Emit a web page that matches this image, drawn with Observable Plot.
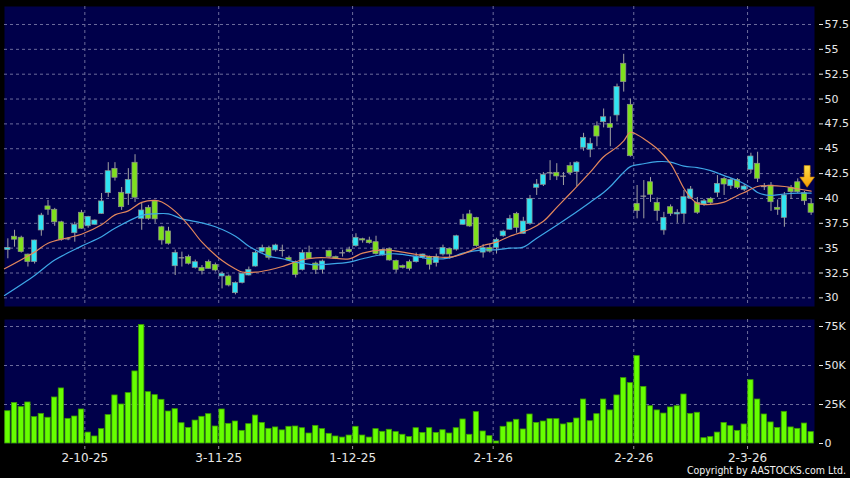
<!DOCTYPE html>
<html><head><meta charset="utf-8">
<script src="https://cdn.jsdelivr.net/npm/d3@7"></script>
<script src="https://cdn.jsdelivr.net/npm/@observablehq/plot@0.6"></script>
<style>
html,body{margin:0;padding:0;background:#000;}
#wrap{position:relative;width:850px;height:478px;overflow:hidden;background:#000;}
#price,#vol{position:absolute;left:0;}
#price{top:0}
#vol{top:312px}
#copy{position:absolute;right:4px;top:464px;color:#f2f2f2;font:10.5px "DejaVu Sans Condensed","DejaVu Sans",sans-serif;white-space:nowrap;}
svg{display:block}
</style></head><body>
<div id="wrap"><div id="price"></div><div id="vol"></div><div id="copy">Copyright by AASTOCKS.com Ltd.</div></div>
<script>
// ---- data (bar index 0..120, daily) ----
const opens  = [34.8,36.15,36.05,34.35,33.6,36.78,39.2,38.86,37.6,35.94,36.5,38.56,37.2,37.35,38.45,40.53,42.98,40.57,40.46,43.59,
  37.95,39.06,39.7,37.1,36.68,33.18,34.03,34.1,33.02,33.02,33.6,33.32,32.15,32.15,30.47,31.5,32.25,33.15,34.6,35.03,
  34.77,34.77,34.0,33.55,32.8,34.53,33.45,32.82,34.7,34.1,34.53,34.83,35.2,35.9,35.77,35.6,34.26,34.9,33.7,33.2,
  33.59,33.59,34.03,34.1,33.5,34.36,34.93,34.85,37.35,38.4,38.05,34.55,35.0,35.03,36.2,36.85,38.45,36.44,37.45,41.07,
  41.37,42.58,42.58,42.24,43.25,42.64,45.1,44.9,47.27,47.67,47.5,48.35,53.55,49.42,39.46,40.23,41.63,39.56,36.78,39.12,
  38.39,38.45,40.0,39.56,39.39,39.96,40.57,41.97,41.23,41.87,40.87,42.88,43.49,41.2,41.3,39.06,38.05,41.07,41.63,40.53,39.46];
const closes = [35.03,35.85,34.6,33.6,35.77,38.28,38.86,37.6,35.85,35.94,37.35,36.95,38.15,37.78,39.7,42.74,42.08,39.12,41.87,40.07,
  38.79,37.95,37.9,35.77,35.44,34.53,34.03,33.43,33.59,32.68,32.92,32.75,32.42,31.24,31.48,32.42,32.82,34.53,35.03,34.03,
  35.27,34.77,33.77,32.3,34.5,33.93,32.78,33.66,34.1,33.95,34.53,34.6,36.04,35.77,35.5,34.4,34.83,33.76,32.82,33.02,
  32.92,34.16,34.36,33.33,34.1,35.03,34.36,36.2,37.85,37.18,35.2,35.0,34.65,35.84,36.67,37.95,37.04,37.68,39.96,41.4,
  42.38,42.58,42.21,42.24,42.55,43.6,46.1,45.5,46.23,48.17,47.1,51.2,51.7,44.25,38.72,40.23,40.37,38.72,38.05,38.45,
  38.56,40.13,40.9,38.56,39.72,39.56,41.47,41.4,41.87,41.07,41.2,44.22,41.98,41.2,39.62,38.86,40.3,40.63,40.63,39.72,38.56];
const highs  = [35.94,36.8,36.2,34.4,35.8,38.5,39.8,39.0,37.7,36.05,37.6,38.8,38.2,37.85,40.5,43.6,43.6,41.1,43.0,44.4,
  39.5,39.3,39.8,37.2,37.1,34.8,34.6,34.3,33.8,33.25,33.8,33.5,32.6,32.3,31.6,32.5,33.1,34.7,35.3,35.2,
  35.4,35.3,34.2,33.7,34.8,35.2,33.6,33.8,34.8,34.2,34.8,35.1,36.45,36.0,36.1,36.2,34.9,35.0,33.8,33.3,
  33.8,34.5,34.4,34.2,34.4,35.3,35.0,36.3,38.4,38.8,38.1,35.35,35.4,36.0,36.8,38.3,38.6,38.1,40.3,41.9,
  42.6,43.8,43.5,42.6,43.6,43.7,46.55,46.05,47.7,49.0,48.2,51.5,54.5,50.0,41.3,41.8,42.1,40.05,38.6,39.35,
  38.86,40.8,41.2,40.1,39.9,40.1,42.3,42.1,42.0,42.0,41.4,44.55,44.65,41.5,41.6,39.85,40.6,41.3,41.97,40.7,39.96];
const lows   = [33.93,35.1,34.5,33.1,33.4,36.2,38.3,37.2,35.7,35.75,35.6,36.9,37.0,37.3,38.4,40.1,41.75,38.8,39.3,39.6,
  36.8,37.8,37.5,35.3,35.3,32.25,33.1,33.3,32.9,32.3,32.9,32.6,30.9,31.1,30.3,31.4,32.2,33.1,34.5,33.8,
  34.6,34.1,33.7,32.0,32.7,33.9,32.35,32.4,34.0,33.85,34.1,34.5,35.1,35.5,35.4,34.3,34.2,33.7,32.5,32.9,
  32.7,33.5,33.9,32.8,33.1,34.2,33.9,34.7,37.3,37.1,35.1,34.0,34.5,34.4,36.1,36.8,36.5,36.4,37.3,40.3,
  41.2,41.8,41.8,41.3,42.3,41.2,44.75,44.1,45.2,47.1,45.2,47.7,50.7,44.15,37.95,37.95,39.6,37.7,36.3,38.2,
  37.5,37.5,39.9,38.4,39.2,39.4,40.1,40.3,40.9,40.9,40.7,42.5,41.6,40.8,38.7,38.3,37.1,39.9,40.5,39.3,38.3];
const volumes = [20.7,26,23.3,26.3,16.9,19,16.5,29.5,35.3,15.8,17.3,21.8,7,4.5,9.2,18.2,30.8,25,32.3,46.2,
  75.9,32.9,31,28,20.5,22,13,10,14.7,17.1,18.8,10.9,21.8,12.6,14.1,8.1,12.4,17.9,13.2,9.4,
  10.3,8.4,10.7,10.9,9.8,6.4,11.3,9.2,6.2,4.5,3.8,5.1,10.7,5.1,3.8,9.2,7.5,8.8,7.3,5.6,
  4.1,9.8,6.8,9.8,6.8,8.5,6.4,9.8,15.4,5.6,20.1,7.7,4.7,1.3,10.7,13.5,15.2,9,18.6,13.2,
  14.1,15.6,15.6,12.2,13.2,16,28.2,14.3,18.8,28.2,21.2,30.8,41.9,38.7,56,36.3,23.9,21.2,19.2,23.1,
  23.9,31.4,19,19.7,3.4,4.1,7,13.2,11.1,8.1,12.2,40.6,28.2,18.6,13.5,10,20.3,10.3,9.4,12.8,7.3]; // thousands

const maShortIdx = [-0.5,4,6,9,11,14,16,18,20,22,23,25,27,29,32,34,35,37,39,41,44,46,48,51,53,56,58,61,63,66,68,71,73,75,78,80,82,84,87,89,91,92,93,94,95,97,99,100,101,102,103,105,107,109,110,112,114,116,118,120];
const maShortVal = [32.92,34.6,35.5,36.05,36.4,37.35,38.35,38.75,39.6,39.8,39.65,38.7,37.3,35.6,33.75,32.9,32.6,32.58,32.8,33.15,33.83,34.03,34.03,33.93,34.5,34.83,34.7,34.36,34.16,34.1,34.43,35.27,35.6,36.2,36.9,37.7,39.1,40.5,42.64,44.2,45.16,45.8,46.66,46.4,46.0,45.0,43.5,42.3,41.0,40.1,39.5,39.4,39.63,40.3,40.6,41.2,41.3,41.2,40.97,40.73];
const maLongIdx = [-0.5,4,7,11,14,16,20,22,24,26,29,31,34,36,39,41,43,46,48,51,53,56,58,61,63,66,68,71,73,75,77,79,82,84,87,89,90,92,93,95,97,99,101,103,105,107,109,111,112,114,116,118,120];
const maLongVal = [30.24,32.25,33.8,35.2,36.15,37.0,38.3,38.45,38.45,37.95,37.55,37.15,36.2,35.2,34.2,33.93,33.6,33.33,33.4,33.6,33.93,34.36,34.43,34.16,33.93,34.03,34.5,34.83,34.83,35.0,35.1,36.0,37.3,38.2,39.62,40.6,41.2,42.64,43.2,43.49,43.7,43.65,43.25,43.1,42.8,42.3,41.8,41.1,40.6,40.3,40.45,40.53,40.53];

const priceTicks = [30,32.5,35,37.5,40,42.5,45,47.5,50,52.5,55,57.5];
const priceTickLabels = ["30","32.5","35","37.5","40","42.5","45","47.5","50","52.5","55","57.5"];
const volTicks = [0,25,50,75];
const volTickLabels = ["0","25K","50K","75K"];
const monthStartIdx = [12,32,52,73,94,111];
const monthLabels = ["2-10-25","3-11-25","1-12-25","2-1-26","2-2-26","2-3-26"];
const markerIdx = 119.4, markerPrice = 42.2; // yellow arrow marker

// ---- build ----
const candles = opens.map((o,i)=>({i, open:o, close:closes[i], high:highs[i], low:lows[i], vol:volumes[i]}));
const maShort = maShortIdx.map((x,k)=>({x, v:maShortVal[k]}));
const maLong = maLongIdx.map((x,k)=>({x, v:maLongVal[k]}));
const monthPos = monthStartIdx.map(d=>d-0.5);

const NAVY="#00004a", GRID="#6c6c9c", CYAN="#2fe3f2", GREEN="#7fe01e", DOJI="#9a9a9a";
const font = {background:"transparent", color:"#e8e8e8", fontFamily:"'DejaVu Sans', sans-serif", fontSize:"11px"};
const xs = {type:"linear", domain:[-0.5,120.5]};

const arrowSymbol = {draw(ctx){
  ctx.moveTo(-3,-11); ctx.lineTo(3,-11); ctx.lineTo(3,0.5); ctx.lineTo(7.3,0.5);
  ctx.lineTo(0,10.7); ctx.lineTo(-7.3,0.5); ctx.lineTo(-3,0.5); ctx.closePath();
}};

const up = candles.filter(d=>d.close>d.open), dn = candles.filter(d=>d.close<d.open), dj = candles.filter(d=>d.close===d.open);
const body = (data, fill)=>Plot.rect(data, {x1:d=>d.i-0.5, x2:d=>d.i+0.5, y1:"open", y2:"close", insetLeft:0.75, insetRight:0.75, fill, stroke:"#8f8f8f", strokeWidth:0.7});

const price = Plot.plot({
  width:850, height:312, marginLeft:4, marginRight:36, marginTop:6, marginBottom:6,
  style:font,
  x:{...xs, axis:null},
  y:{domain:[29.13,59.31], axis:null},
  marks:[
    Plot.frame({fill:NAVY, stroke:"none"}),
    Plot.gridY(priceTicks, {stroke:GRID, strokeOpacity:1, strokeDasharray:"3,3"}),
    Plot.ruleX(monthPos, {stroke:GRID, strokeOpacity:1, strokeDasharray:"3,3"}),
    Plot.ruleX(candles, {x:"i", y1:"low", y2:"high", stroke:"#a2a2a2", strokeWidth:1}),
    body(up, CYAN),
    body(dn, GREEN),
    Plot.ruleY(dj, {y:"close", x1:d=>d.i-0.42, x2:d=>d.i+0.42, stroke:DOJI, strokeWidth:1.2}),
    Plot.line(maLong, {x:"x", y:"v", stroke:"#3ea6e6", strokeWidth:1.2, curve:"catmull-rom"}),
    Plot.line(maShort, {x:"x", y:"v", stroke:"#e3875c", strokeWidth:1.2, curve:"catmull-rom"}),
    Plot.dot([{i:markerIdx, p:markerPrice}], {x:"i", y:"p", symbol:arrowSymbol, fill:"url(#ag)", stroke:"#c98200", strokeWidth:0.6}),
    Plot.axisY(priceTicks, {anchor:"right", label:null, tickSize:4, tickPadding:2, dx:4, tickFormat:d=>priceTickLabels[priceTicks.indexOf(d)]})
  ]
});
const defs = d3.select(price).insert("defs", ":first-child");
const lg = defs.append("linearGradient").attr("id","ag").attr("x1",0).attr("y1",0).attr("x2",0).attr("y2",1);
lg.append("stop").attr("offset","0%").attr("stop-color","#ffe04a");
lg.append("stop").attr("offset","100%").attr("stop-color","#f39a00");
document.getElementById("price").append(price);

const vol = Plot.plot({
  width:850, height:166, marginLeft:4, marginRight:36, marginTop:7, marginBottom:35,
  style:font,
  x:{...xs, axis:null},
  y:{domain:[0,79.49], axis:null},
  marks:[
    Plot.frame({fill:NAVY, stroke:"none"}),
    Plot.gridY(volTicks.slice(1), {stroke:GRID, strokeOpacity:1, strokeDasharray:"3,3"}),
    Plot.ruleX(monthPos, {stroke:GRID, strokeOpacity:1, strokeDasharray:"3,3"}),
    Plot.rect(candles, {x1:d=>d.i-0.5, x2:d=>d.i+0.5, y1:0, y2:"vol", insetLeft:0.7, insetRight:0.7, fill:"#66ff00", stroke:"#3d9c00", strokeWidth:0.8}),
    Plot.axisY(volTicks, {anchor:"right", label:null, tickSize:4, tickPadding:2, dx:4, tickFormat:d=>volTickLabels[volTicks.indexOf(d)]}),
    Plot.axisX(monthPos, {anchor:"bottom", label:null, tickSize:3, tickPadding:4, dy:3, fontSize:12, stroke:"#9a9a9a", tickFormat:d=>monthLabels[monthPos.indexOf(d)]})
  ]
});
document.getElementById("vol").append(vol);
</script>
</body></html>
